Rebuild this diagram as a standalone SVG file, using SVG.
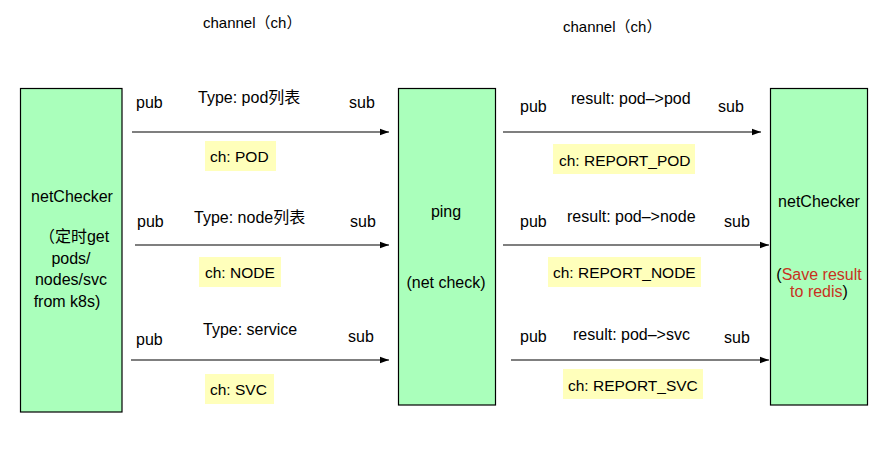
<svg xmlns="http://www.w3.org/2000/svg" width="895" height="451" viewBox="0 0 895 451">
<style>
.t{font-family:"Liberation Sans","Noto Sans CJK SC",Arial,sans-serif;font-size:16px;fill:#000}
.h{font-size:15px}
.c{font-size:15.5px}
.m{text-anchor:middle}
.box{fill:#aaffbb;stroke:#000;stroke-width:1.2}
.ch{fill:#ffffbb}
.ln{stroke:#555;stroke-width:1.5;fill:none;marker-end:url(#ah)}
.red{fill:#c8321e}
</style>
<defs>
<marker id="ah" markerWidth="10" markerHeight="8" refX="9" refY="4" orient="auto" markerUnits="userSpaceOnUse">
<path d="M0,0.8 L9,4 L0,7.2 Z" fill="#000"/>
</marker>
</defs>
<rect width="895" height="451" fill="#fff"/>
<text class="t h" x="203" y="28">channel（ch）</text>
<text class="t h" x="563" y="32">channel（ch）</text>
<g id="node-netchecker-left">
<rect class="box" x="20.5" y="88.5" width="101.5" height="323.5"/>
<text class="t m" x="72" y="202">netChecker</text>
<text class="t m" x="74" y="242">（定时get</text>
<text class="t m" x="71" y="264">pods/</text>
<text class="t m" x="71" y="285">nodes/svc</text>
<text class="t m" x="67" y="307">from k8s)</text>
</g>
<g id="node-ping">
<rect class="box" x="398.5" y="88.5" width="97" height="316.5"/>
<text class="t m" x="446" y="217">ping</text>
<text class="t m" x="446" y="288">(net check)</text>
</g>
<g id="node-netchecker-right">
<rect class="box" x="770.5" y="88.5" width="97" height="316.5"/>
<text class="t m" x="819" y="207">netChecker</text>
<text class="t m" x="819" y="280"><tspan>(</tspan><tspan class="red">Save result</tspan></text>
<text class="t m" x="819" y="297"><tspan class="red">to redis</tspan><tspan>)</tspan></text>
</g>
<g id="connectors">
<line class="ln" x1="132" y1="132" x2="389" y2="132"/>
<line class="ln" x1="135" y1="245" x2="389" y2="245"/>
<line class="ln" x1="131" y1="360" x2="389" y2="360"/>
<line class="ln" x1="503" y1="132" x2="761" y2="132"/>
<line class="ln" x1="503" y1="245" x2="769" y2="245"/>
<line class="ln" x1="511" y1="360" x2="769" y2="360"/>
</g>
<g id="labels">
<text class="t" x="136" y="108">pub</text>
<text class="t" x="198" y="103">Type: pod列表</text>
<text class="t" x="349" y="108">sub</text>
<rect class="ch" x="205" y="141" width="71" height="30"/>
<text class="t c" x="210" y="162">ch: POD</text>

<text class="t" x="137" y="227">pub</text>
<text class="t" x="194" y="223">Type: node列表</text>
<text class="t" x="350" y="227">sub</text>
<rect class="ch" x="199" y="257" width="82" height="30"/>
<text class="t c" x="205" y="278">ch: NODE</text>

<text class="t" x="136" y="345">pub</text>
<text class="t" x="203" y="335">Type: service</text>
<text class="t" x="348" y="342">sub</text>
<rect class="ch" x="205" y="374" width="69" height="30"/>
<text class="t c" x="210" y="395">ch: SVC</text>

<text class="t" x="520" y="112">pub</text>
<text class="t" x="571" y="104">result: pod–&gt;pod</text>
<text class="t" x="718" y="112">sub</text>
<rect class="ch" x="553" y="144" width="142" height="30"/>
<text class="t c" x="559" y="166">ch: REPORT_POD</text>

<text class="t" x="520" y="227">pub</text>
<text class="t" x="567" y="222">result: pod–&gt;node</text>
<text class="t" x="724" y="227">sub</text>
<rect class="ch" x="548" y="257" width="153" height="30"/>
<text class="t c" x="553" y="278">ch: REPORT_NODE</text>

<text class="t" x="520" y="342">pub</text>
<text class="t" x="573" y="340">result: pod–&gt;svc</text>
<text class="t" x="724" y="343">sub</text>
<rect class="ch" x="563" y="369" width="140" height="30"/>
<text class="t c" x="568" y="391">ch: REPORT_SVC</text>
</g>
</svg>
